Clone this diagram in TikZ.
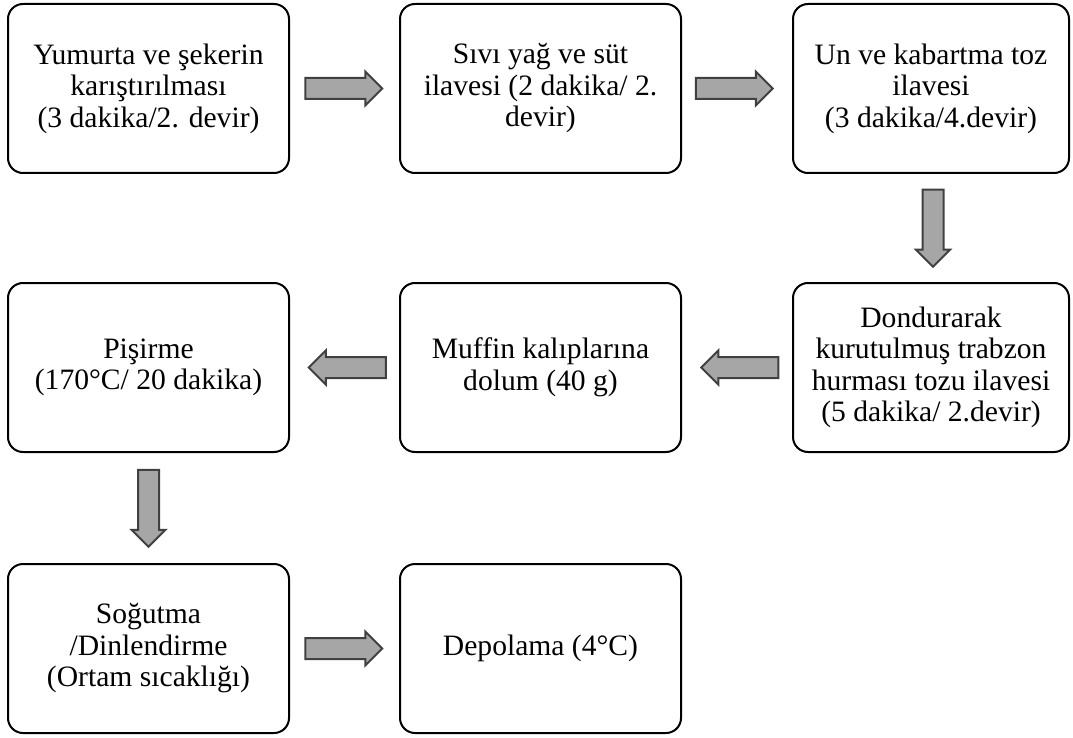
\documentclass[tikz,border=0pt]{standalone}
\usepackage{fontspec}
\setmainfont{Liberation Serif}
\usetikzlibrary{shapes.arrows,calc}
\begin{document}
\begin{tikzpicture}[x=1pt,y=-1pt,
  stepbox/.style={draw=black, line width=2pt, rounded corners=15pt,
    minimum width=281pt, minimum height=169pt, align=center, inner sep=0pt,
    font=\fontsize{29.6}{31.5}\selectfont},
  blockarrow/.style={single arrow, draw=black!75, fill=black!35, line width=2pt,
    inner sep=9.5pt, single arrow head extend=6.5pt, single arrow tip angle=90,
    minimum height=77pt, anchor=center}]
\useasboundingbox (0,0) rectangle (1073,738);
% boxes
\node[stepbox] (b1) at (148.5,88.5) {Yumurta ve şekerin\\karıştırılması\\(3 dakika/2. devir)};
\node[stepbox] (b2) at (540.5,88.5) {Sıvı yağ ve süt\\ilavesi (2 dakika/ 2.\\devir)};
\node[stepbox, minimum width=276pt] (b3) at (931,88.5) {Un ve kabartma toz\\ilavesi\\(3 dakika/4.devir)};
\node[stepbox, minimum width=276pt] (b6) at (931,367.5) {Dondurarak\\kurutulmuş trabzon\\hurması tozu ilavesi\\(5 dakika/ 2.devir)};
\node[stepbox] (b5) at (540.5,367.5) {Muffin kalıplarına\\dolum (40 g)};
\node[stepbox] (b4) at (148.5,367.5) {Pişirme\\(170°C/ 20 dakika)};
\node[stepbox] (b7) at (148.5,648.5) {Soğutma\\/Dinlendirme\\(Ortam sıcaklığı)};
\node[stepbox] (b8) at (540.5,648.5) {Depolama (4°C)};
% block arrows
\node[blockarrow] (a12) at ($(b1.east)!0.5!(b2.west)+(-6,0)$) {};
\node[blockarrow] (a23) at ($(b2.east)!0.5!(b3.west)+(-8,0)$) {};
\node[blockarrow, rotate=-90] (a36) at ($(b3.south)!0.5!(b6.north)+(2,-5)$) {};
\node[blockarrow, rotate=180] (a65) at ($(b5.east)!0.5!(b6.west)+(8,0)$) {};
\node[blockarrow, rotate=180] (a54) at ($(b4.east)!0.5!(b5.west)+(8,0)$) {};
\node[blockarrow, rotate=-90] (a47) at ($(b4.south)!0.5!(b7.north)+(0,-5)$) {};
\node[blockarrow] (a78) at ($(b7.east)!0.5!(b8.west)+(-6,0)$) {};
\end{tikzpicture}
\end{document}
